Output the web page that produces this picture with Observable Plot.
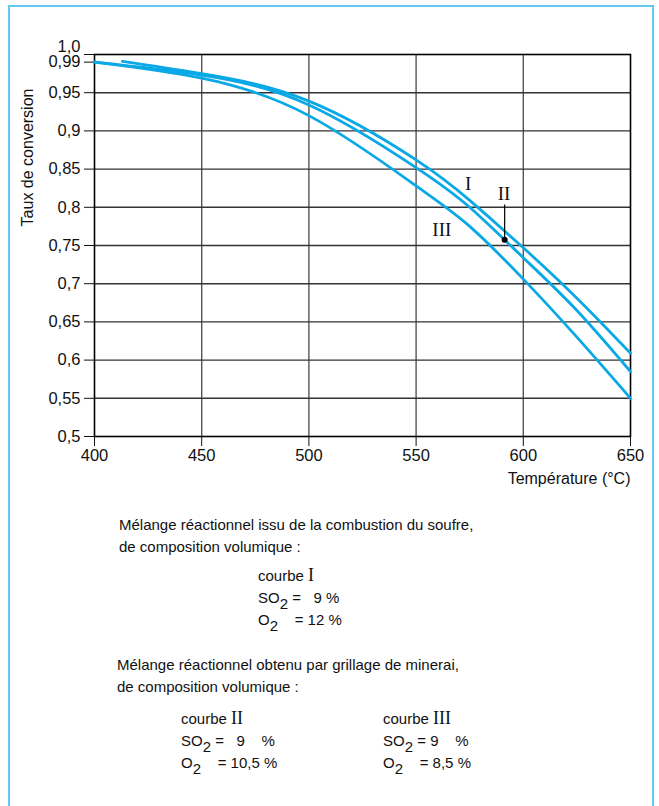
<!DOCTYPE html>
<html><head><meta charset="utf-8">
<script src="https://cdn.jsdelivr.net/npm/d3@7"></script>
<script src="https://cdn.jsdelivr.net/npm/@observablehq/plot@0.6"></script>
<style>
body{margin:0;background:#fff;font-family:"Liberation Sans",Arial,sans-serif;color:#111;}
#wrap{position:relative;width:659px;height:806px;overflow:hidden;}
#border{position:absolute;left:8px;top:5px;width:646px;height:830px;border:2px solid #62c9f2;box-sizing:border-box;}
#chart{position:absolute;left:0;top:0;}
.t{position:absolute;font-size:15px;line-height:22px;white-space:pre;}
.r{font-family:"Liberation Serif","DejaVu Serif",serif;font-size:18px;}
.s{position:relative;top:6px;font-size:15px;}
</style></head>
<body>
<div id="wrap">
<div id="border"></div>
<div id="chart"></div>
<div class="t" style="left:119px;top:514px;">Mélange réactionnel issu de la combustion du soufre,
de composition volumique :</div>
<div class="t" style="left:258px;top:564px;">courbe <span class="r">I</span>
SO<span class="s">2</span> =   9 %
O<span class="s">2</span>    = 12 %</div>
<div class="t" style="left:117px;top:654px;">Mélange réactionnel obtenu par grillage de minerai,
de composition volumique :</div>
<div class="t" style="left:181px;top:707px;">courbe <span class="r">II</span>
SO<span class="s">2</span> =   9    %
O<span class="s">2</span>    = 10,5 %</div>
<div class="t" style="left:383px;top:707px;">courbe <span class="r">III</span>
SO<span class="s">2</span> = 9    %
O<span class="s">2</span>    = 8,5 %</div>
</div>
<script>
// Curve I
const tempI = [413, 450, 500, 550, 575, 600, 625, 650];
const tauxI = [0.991, 0.975, 0.939, 0.862, 0.809, 0.747, 0.681, 0.609];
// Curve II
const tempII = [400, 450, 500, 550, 575, 600, 625, 650];
const tauxII = [0.990, 0.973, 0.934, 0.852, 0.800, 0.734, 0.665, 0.585];
// Curve III
const tempIII = [400, 450, 500, 550, 575, 600, 625, 650];
const tauxIII = [0.990, 0.969, 0.920, 0.828, 0.775, 0.706, 0.630, 0.550];

const xTicks = [400, 450, 500, 550, 600, 650];
const xGrid = [450, 500, 550, 600];
const yTicks = [0.5, 0.55, 0.6, 0.65, 0.7, 0.75, 0.8, 0.85, 0.9, 0.95, 0.99, 1.0];
const yTickLabels = ["0,5", "0,55", "0,6", "0,65", "0,7", "0,75", "0,8", "0,85", "0,9", "0,95", "0,99", ""];
const yTop = [1.0];
const yTopLabel = ["1,0"];
const yGrid = [0.55, 0.6, 0.65, 0.7, 0.75, 0.8, 0.85, 0.9, 0.95];

const curveNames = ["I", "II", "III"];
const labelTemp = [574.3, 591, 562];
const labelTaux = [0.831, 0.817, 0.770];
const markerTemp = [591.3];
const markerTaux = [0.7575];
const leaderTop = [0.803];

const series = [];
[[tempI, tauxI], [tempII, tauxII], [tempIII, tauxIII]].forEach(([t, v], k) => {
  t.forEach((d, i) => series.push({courbe: curveNames[k], T: d, v: v[i]}));
});
const labels = curveNames.map((n, i) => ({n, T: labelTemp[i], v: labelTaux[i]}));

const chart = Plot.plot({
  width: 659, height: 495,
  marginLeft: 94, marginRight: 29, marginTop: 54, marginBottom: 59,
  x: {domain: [400, 650], ticks: xTicks, tickSize: 10, tickPadding: 3, tickFormat: d => String(d), label: null},
  y: {domain: [0.5, 1.0], ticks: yTicks, tickSize: 10, tickPadding: 4, tickFormat: d => yTickLabels[yTicks.indexOf(d)], label: null},
  style: {fontFamily: "'Liberation Sans', Arial, sans-serif", fontSize: "16.5px", color: "#111", background: "transparent"},
  marks: [
    Plot.ruleX(xGrid, {stroke: "#555", strokeWidth: 1.4}),
    Plot.ruleY(yGrid, {stroke: "#333", strokeWidth: 1.4}),
    Plot.frame({stroke: "#000", strokeWidth: 1.6}),
    Plot.text(yTop, {y: d => d, frameAnchor: "left", dx: -14, dy: -8, textAnchor: "end", fontSize: 16.5, fill: "#111", text: (d, i) => yTopLabel[i]}),
    Plot.line(series, {x: "T", y: "v", z: "courbe", stroke: "#0aa9e6", strokeWidth: 2.8, curve: "natural"}),
    Plot.text(labels, {x: "T", y: "v", text: "n", fontFamily: "'Liberation Serif', 'DejaVu Serif', serif", fontSize: 19, fill: "#111"}),
    Plot.ruleX(markerTemp, {y1: leaderTop[0], y2: markerTaux[0], stroke: "#000", strokeWidth: 1.2}),
    Plot.dot(markerTemp.map((t, i) => ({T: t, v: markerTaux[i]})), {x: "T", y: "v", r: 3, fill: "#000"}),
    Plot.text(["Taux de conversion"], {x: 368.8, y: 0.775, rotate: -90, textAnchor: "start", fontSize: 16, fill: "#111"}),
    Plot.text(["Température (°C)"], {x: 650, y: 0.445, textAnchor: "end", fontSize: 16, fill: "#111"})
  ]
});
document.getElementById("chart").appendChild(chart);
</script>
</body></html>
